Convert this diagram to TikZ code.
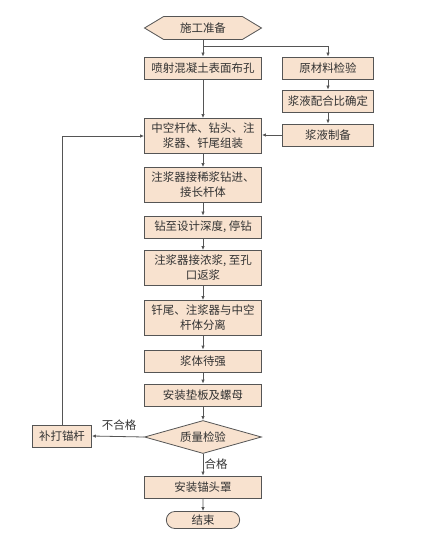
\documentclass[tikz,border=0pt]{standalone}
\usepackage{fontspec}
\newfontfamily\cjk{Noto Sans CJK SC}
\usetikzlibrary{arrows.meta,shapes.geometric,shapes.misc,shapes.symbols}
\definecolor{cbox}{HTML}{F8E2CF}
\definecolor{cline}{HTML}{555555}
\definecolor{ctext}{HTML}{333333}
\tikzset{
  stepbox/.style={rectangle, draw=cline, fill=cbox, line width=0.6pt,
                  align=center, text=ctext, inner sep=1pt,
                  minimum width=87.75pt, minimum height=16.5pt},
  tall/.style={stepbox, minimum height=26.25pt},
  side/.style={stepbox, minimum width=68.25pt},
  start/.style={signal, signal to=west and east, signal pointer angle=62,
                draw=cline, fill=cbox, line width=0.6pt, text=ctext,
                inner sep=1pt, minimum width=87.75pt, minimum height=17.25pt},
  check/.style={diamond, aspect=3.5, draw=cline, fill=cbox, line width=0.6pt,
                text=ctext, inner sep=0pt, minimum width=87.75pt, minimum height=24.75pt},
  stop/.style={rounded rectangle, draw=cline, fill=cbox, line width=0.6pt,
               text=ctext, inner sep=1pt, minimum width=57pt, minimum height=12.75pt},
  fl/.style={-{Latex[length=3pt,width=2.6pt]}, draw=cline, line width=0.6pt},
  lbl/.style={text=ctext, inner sep=1pt}
}

\begin{document}
\begin{tikzpicture}[x=0.75pt, y=-0.75pt, font=\cjk\fontsize{8.6}{11.3}\selectfont]
\useasboundingbox (0,0) rectangle (441,534);

% main column
\node[start] (prep) at (203,28) {施工准备};
\node[stepbox] (hole) at (203,68) {喷射混凝土表面布孔};
\node[tall] (asm) at (203,136) {中空杆体、钻头、注\\浆器、钎尾组装};
\node[tall] (thin) at (203,185) {注浆器接稀浆钻进、\\接长杆体};
\node[stepbox] (depth) at (203,227) {钻至设计深度, 停钻};
\node[tall] (thick) at (203,268) {注浆器接浓浆, 至孔\\口返浆};
\node[tall] (sep) at (203,318) {钎尾、注浆器与中空\\杆体分离};
\node[stepbox] (cure) at (203,361) {浆体待强};
\node[stepbox] (plate) at (203,395) {安装垫板及螺母};
\node[check] (qc) at (203,437) {质量检验};
\node[stepbox] (cap) at (203,487) {安装锚头罩};
\node[stop] (end) at (203,520) {结束};

% grout branch
\node[side] (mat) at (328,68) {原材料检验};
\node[side] (ratio) at (328,101) {浆液配合比确定};
\node[side] (mix) at (328,135) {浆液制备};

% redo
\node[stepbox, minimum width=44.25pt] (redo) at (62,436) {补打锚杆};

\coordinate (br) at (203,46);

\draw[fl] (prep.south) -- (hole.north);
\draw[fl] (br) -| (mat.north);
\draw[fl] (mat) -- (ratio);
\draw[fl] (ratio) -- (mix);
\draw[fl] (mix.west) -- (asm.east |- mix.west);
\draw[fl] (hole) -- (asm);
\draw[fl] (asm) -- (thin);
\draw[fl] (thin) -- (depth);
\draw[fl] (depth) -- (thick);
\draw[fl] (thick) -- (sep);
\draw[fl] (sep) -- (cure);
\draw[fl] (cure) -- (plate);
\draw[fl] (plate) -- (qc);
\draw[fl] (qc.south) -- node[lbl, right, pos=0.45] {合格} (cap.north);
\draw[fl] (cap) -- (end);
\draw[fl] (qc.west) -- node[lbl, above=3pt, pos=0.48] {不合格} (redo.east);
\draw[fl] (redo.north) |- (asm.west);

\end{tikzpicture}
\end{document}
